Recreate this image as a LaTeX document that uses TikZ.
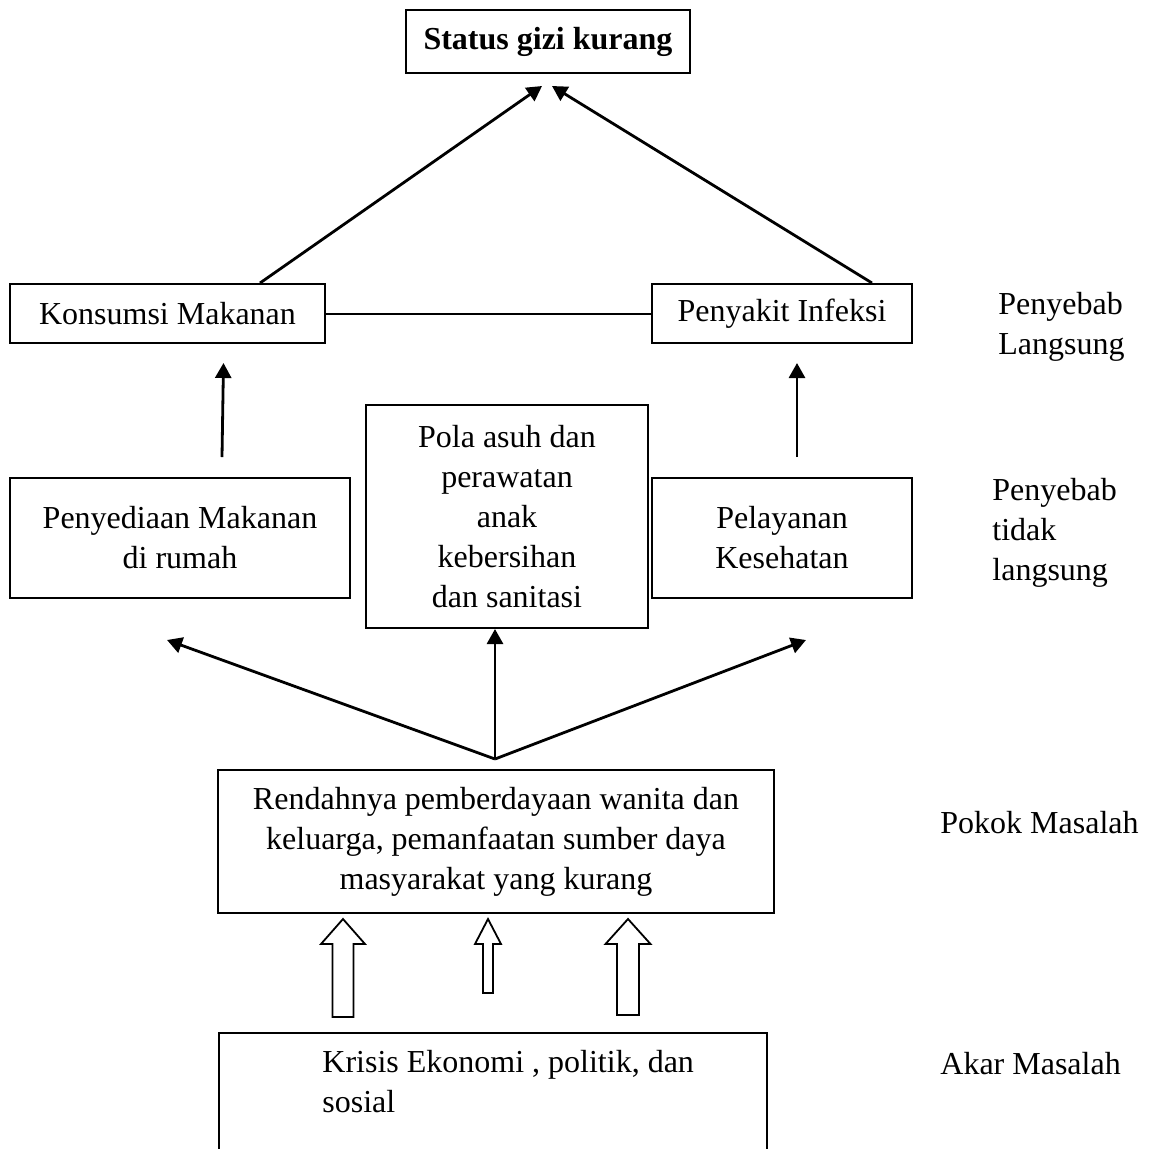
\documentclass[tikz,border=0pt]{standalone}
\usepackage{fontspec}
\setmainfont{Liberation Serif}
\usetikzlibrary{arrows.meta,calc,positioning}
\tikzset{
  box/.style={draw, line width=1pt, align=center, inner sep=0pt, font=\fontsize{16}{20}\selectfont},
  lbl/.style={align=left, inner sep=0pt, font=\fontsize{16}{20}\selectfont},
  arr/.style={line width=1.4pt, -{Triangle[length=7.5pt,width=8pt]}}
}
% foot, tip, half shaft, half head
\newcommand{\hollowarrow}[4]{\draw[line width=0.9pt, fill=white] ($(#1)+(-#3,0)$) -- ($(#2)+(-#3,25)$) -- ($(#2)+(-#4,25)$) -- (#2) -- ($(#2)+(#4,25)$) -- ($(#2)+(#3,25)$) -- ($(#1)+(#3,0)$) -- cycle;}

\begin{document}
\begin{tikzpicture}[x=0.5pt, y=-0.5pt]
			%%%%% START %%%%%
			\path[use as bounding box, clip] (0,0) rectangle (1152,1148);
			
			\node[box, minimum width=142pt, minimum height=31.5pt, font=\fontsize{16}{20}\selectfont\bfseries] (status) at (548,41.5) {Status gizi kurang};
			
			\node[box, minimum width=157.5pt, minimum height=29.5pt] (konsumsi) at (167.5,313.5) {Konsumsi Makanan};
			\node[box, minimum width=130pt, minimum height=29.5pt] (infeksi) at (782,313.5) {Penyakit Infeksi};
			\node[lbl, anchor=west] (langsung) at (998,327) {Penyebab\\Langsung};
			
			\node[box, minimum width=170pt, minimum height=60pt] (penyediaan) at (180,538) {Penyediaan Makanan\\di rumah};
			\node[box, minimum width=141pt, minimum height=111.5pt] (pola) at (507,516.5) {Pola asuh dan\\perawatan\\anak\\kebersihan\\dan sanitasi};
			\node[box, minimum width=130pt, minimum height=60pt] (pelayanan) at (782,538) {Pelayanan\\Kesehatan};
			\node[lbl, anchor=west] (tidaklangsung) at (992,533) {Penyebab\\tidak\\langsung};
			
			\node[box, minimum width=278pt, minimum height=71.5pt] (pokok) at (496,841.5) {Rendahnya pemberdayaan wanita dan\\keluarga, pemanfaatan sumber daya\\masyarakat yang kurang};
			\node[lbl, anchor=west] (pokoklbl) at (940,823) {Pokok Masalah};
			
			\node[box, minimum width=274pt, minimum height=70pt, anchor=north west] (krisis) at (218,1032) {};
			\node[lbl, anchor=north west] (krisistext) at ([xshift=52pt,yshift=-9pt]krisis.north west) {Krisis Ekonomi , politik, dan\\sosial};
			\node[lbl, anchor=west] (akarlbl) at (940,1064) {Akar Masalah};
			
			% penyebab langsung
			\draw[arr] ([xshift=46.25pt]konsumsi.north) -- ([xshift=-3pt,yshift=-6pt]status.south);
			\draw[arr] ([xshift=45pt]infeksi.north) -- ([xshift=2pt,yshift=-6pt]status.south);
			\draw[line width=1pt] (konsumsi) -- (infeksi);
			
			% penyebab tidak langsung
			\draw[arr] ([xshift=21pt,yshift=10pt]penyediaan.north) -- ([xshift=28pt,yshift=-9.5pt]konsumsi.south);
			\draw[arr] ([xshift=7.5pt,yshift=10pt]pelayanan.north) -- ([xshift=7.5pt,yshift=-9.5pt]infeksi.south);
			
			% pokok masalah
			\coordinate (fork) at ([xshift=-0.5pt,yshift=5pt]pokok.north);
			\coordinate (leftend) at ([xshift=-6.5pt,yshift=-20.5pt]penyediaan.south);
			\coordinate (rightend) at ([xshift=12pt,yshift=-20.5pt]pelayanan.south);
			\draw[arr] (fork) -- (leftend);
			\draw[arr] (fork) -- (fork |- pola.south);
			\draw[arr] (fork) -- (rightend);
			
			% akar masalah
			\coordinate (tipA) at ([xshift=-76.5pt,yshift=-2.5pt]pokok.south);
			\coordinate (tipB) at ([xshift=-4pt,yshift=-2.5pt]pokok.south);
			\coordinate (tipC) at ([xshift=66pt,yshift=-2.5pt]pokok.south);
			\coordinate (footA) at ($(tipA |- krisis.north)+(0,-15)$);
			\coordinate (footB) at ($(tipB |- krisis.north)+(0,-39)$);
			\coordinate (footC) at ($(tipC |- krisis.north)+(0,-17)$);
			\hollowarrow{footA}{tipA}{10.5}{22}
			\hollowarrow{footB}{tipB}{5}{13}
			\hollowarrow{footC}{tipC}{11}{22.5}
			
			%%%%% END %%%%%
\end{tikzpicture}
\end{document}
